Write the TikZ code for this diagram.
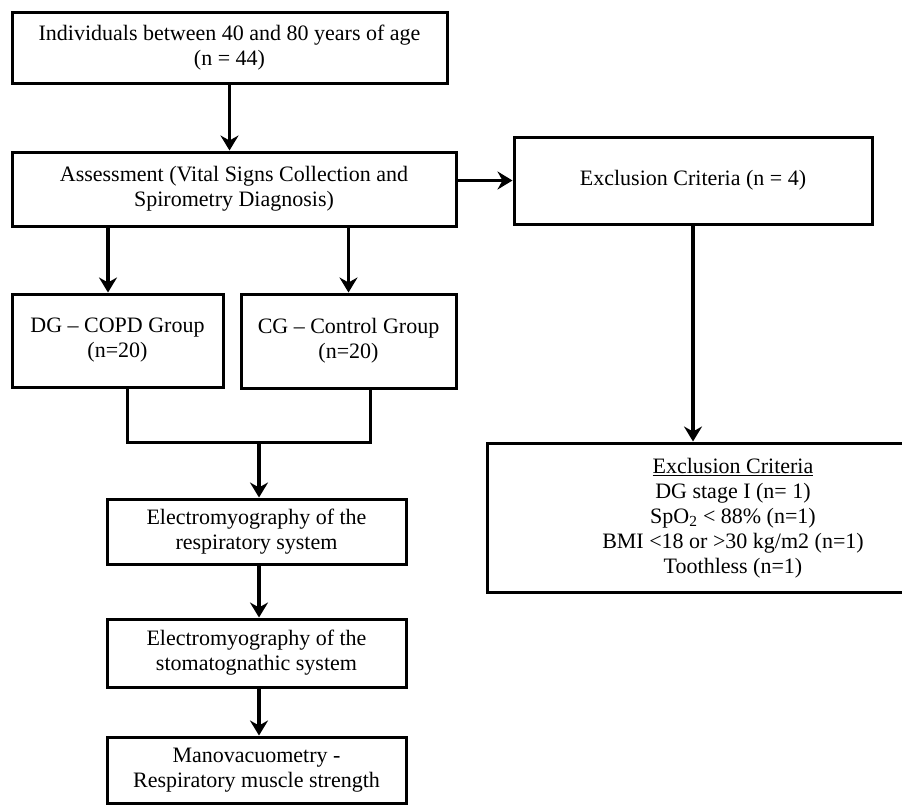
\documentclass[tikz,border=0pt]{standalone}
\usepackage{fontspec}
\setmainfont{Liberation Serif}
\usetikzlibrary{arrows.meta}
\begin{document}
\begin{tikzpicture}[x=1pt,y=-1pt,
  box/.style={draw, line width=3pt, inner sep=0pt, align=center, font=\fontsize{22}{25}\selectfont},
  txt/.style={inner sep=0pt, align=center, font=\fontsize{22}{25}\selectfont},
  arr/.style={line width=3.2pt, -{Stealth[length=15pt,width=18pt,inset=5pt]}},
  ln/.style={line width=3pt}]
\path[use as bounding box, fill=white] (0,0) rectangle (902,809);
\clip (0,0) rectangle (902,809);
\node[box, minimum width=435pt, minimum height=71pt] (top) at (229.5,47.5) {Individuals between 40 and 80 years of age\\(n = 44)};
\node[box, minimum width=444pt, minimum height=74pt] (assess) at (234,189) {Assessment (Vital Signs Collection and\\Spirometry Diagnosis)};
\node[box, minimum width=358pt, minimum height=87pt] (excl) at (693,180.5) {Exclusion Criteria (n = 4)};
\node[box, minimum width=211pt, minimum height=93pt] (dg) at (117.5,340.5) {DG – COPD Group\\(n=20)};
\node[box, minimum width=215pt, minimum height=94pt] (cg) at (348.5,341) {CG – Control Group\\(n=20)};
\node[box, minimum width=419pt, minimum height=149pt] (ex2) at (696.5,517.5) {};
\node[txt] (ex2t) at (733,518) {\underline{Exclusion Criteria}\\DG stage I (n= 1)\\SpO\textsubscript{2} < 88\% (n=1)\\BMI <18 or >30 kg/m2 (n=1)\\Toothless (n=1)};
\node[box, minimum width=299pt, minimum height=65pt] (resp) at (256.5,531.5) {Electromyography of the\\respiratory system};
\node[box, minimum width=299pt, minimum height=68pt] (stom) at (256.5,653) {Electromyography of the\\stomatognathic system};
\node[box, minimum width=299pt, minimum height=66pt] (mano) at (256.5,770) {Manovacuometry -\\Respiratory muscle strength};
\coordinate (dgin) at (108,0);
\coordinate (dgo) at (127,0);
\coordinate (cgo) at (370,0);
\coordinate (j) at (259,442);
\draw[arr] (top.south) -- (top.south |- assess.north);
\draw[arr] (assess.east |- excl.west) -- (excl.west);
\draw[arr] (assess.south -| dgin) -- (dg.north -| dgin);
\draw[arr] (assess.south -| cg.north) -- (cg.north);
\draw[ln] (dg.south -| dgo) |- (j) -| (cg.south -| cgo);
\draw[arr] (j) -- (resp.north -| j);
\draw[arr] (resp.south -| j) -- (stom.north -| j);
\draw[arr] (stom.south -| j) -- (mano.north -| j);
\draw[arr] (excl.south) -- (excl.south |- ex2.north);
\end{tikzpicture}
\end{document}
